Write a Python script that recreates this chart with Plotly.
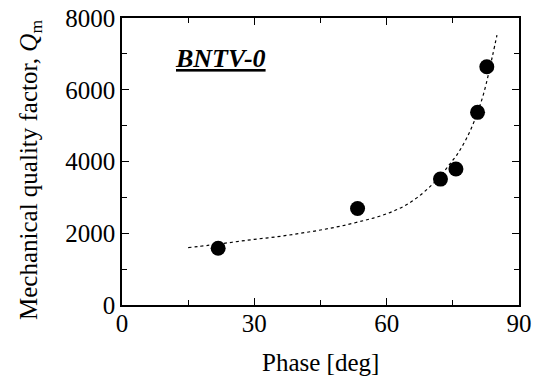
import plotly.graph_objects as go

# measured points
phase = [21.8, 53.4, 72.2, 75.7, 80.6, 82.7]
qm = [1580, 2690, 3510, 3790, 5370, 6640]

# dashed fit curve
fit_phase = [15, 20, 25, 30, 35, 40, 45, 50, 55, 58, 61, 64, 67, 70, 72, 74, 76, 78, 80, 82, 84, 85]
fit_qm = [1600, 1670, 1750, 1830, 1900, 1990, 2090, 2210, 2360, 2460, 2590, 2760, 3000, 3320, 3560, 3880, 4200, 4620, 5170, 5900, 6950, 7520]

x_ticks = [0, 30, 60, 90]
y_ticks = [0, 2000, 4000, 6000, 8000]

font = "Liberation Serif, Times New Roman, serif"

fig = go.Figure()
fig.add_trace(go.Scatter(x=fit_phase, y=fit_qm, mode="lines",
                         line=dict(color="black", width=1.2, dash="3px,3px", shape="spline", smoothing=1.0),
                         showlegend=False, hoverinfo="skip"))
fig.add_trace(go.Scatter(x=phase, y=qm, mode="markers",
                         marker=dict(color="black", size=15),
                         showlegend=False))

axis_common = dict(showgrid=False, zeroline=False, showline=True, linecolor="black", linewidth=1.5,
                   mirror="ticks", ticks="inside", ticklen=7, tickwidth=1.2, tickcolor="black",
                   automargin=False,
                   tickfont=dict(family=font, size=25, color="black"))

fig.update_xaxes(range=[0, 90], tickvals=x_ticks, ticktext=[str(v) for v in x_ticks],
                 minor=dict(tickvals=[15, 45, 75], ticks="inside", ticklen=5, tickcolor="black", tickwidth=1.2),
                 ticklabelstandoff=-5,
                 **axis_common)
fig.update_yaxes(range=[0, 8000], tickvals=y_ticks, ticktext=[str(v) for v in y_ticks],
                 minor=dict(tickvals=[1000, 3000, 5000, 7000], ticks="inside", ticklen=5, tickcolor="black", tickwidth=1.2),
                 **axis_common)

# axis titles placed as annotations
fig.add_annotation(text="Phase [deg]", x=0.5, y=-0.2, xref="paper", yref="paper",
                   showarrow=False, yanchor="middle", xanchor="center",
                   font=dict(family=font, size=25, color="black"))
fig.add_annotation(text="Mechanical quality factor, <i>Q</i><sub>m</sub>", x=-0.232, y=0.47,
                   xref="paper", yref="paper", textangle=-90, showarrow=False,
                   xanchor="center", yanchor="middle",
                   font=dict(family=font, size=25, color="black"))

fig.add_annotation(text="<b><i><u>BNTV-0</u></i></b>",
                   x=(220 - 122) / 397 * 90, y=(305 - 58) / 287 * 8000, xref="x", yref="y",
                   showarrow=False, font=dict(family=font, size=26, color="black"))

fig.update_layout(width=533, height=377, margin=dict(l=122, r=14, t=18, b=72),
                  plot_bgcolor="white", paper_bgcolor="white")

fig.write_html("out.html")
